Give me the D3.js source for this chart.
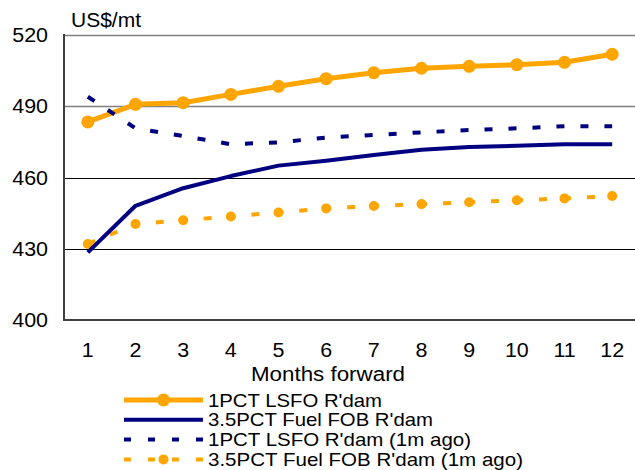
<!DOCTYPE html>
<html>
<head>
<meta charset="utf-8">
<script src="https://cdn.jsdelivr.net/npm/d3@7/dist/d3.min.js"></script>
<style>
  html, body { margin: 0; padding: 0; background: #fff; }
  svg { display: block; }
  text { font-family: "Liberation Sans", Arial, sans-serif; fill: #000; }
</style>
</head>
<body>
<svg id="chart" width="635" height="470"></svg>
<script>
// Forward curve, US$/mt, by months forward
const months = [1, 2, 3, 4, 5, 6, 7, 8, 9, 10, 11, 12];
const lsfo1pct      = [483.4, 490.8, 491.5, 495.0, 498.4, 501.6, 504.1, 506.0, 506.8, 507.5, 508.5, 511.9];
const fuel35pct     = [428.5, 448.1, 455.5, 460.6, 465.0, 467.1, 469.5, 471.7, 472.8, 473.4, 474.0, 474.0];
const lsfo1pctAgo   = [494.0, 480.7, 477.5, 474.0, 474.8, 476.8, 477.9, 479.0, 480.0, 480.7, 481.6, 481.6];
const fuel35pctAgo  = [432.0, 440.4, 442.0, 443.6, 445.3, 447.0, 448.0, 448.8, 449.6, 450.4, 451.2, 452.2];
const yTicks = [400, 430, 460, 490, 520];
const seriesNames = ["1PCT LSFO R'dam", "3.5PCT Fuel FOB R'dam", "1PCT LSFO R'dam (1m ago)", "3.5PCT Fuel FOB R'dam (1m ago)"];

const ORANGE = "#FFA500", NAVY = "#000080";
const FONT = "Liberation Sans, Arial, sans-serif";
const svg = d3.select("#chart");
const plotLeft = 64, plotRight = 636, plotTop = 35, plotBottom = 320;

const x = d3.scaleBand().domain(months).range([plotLeft, plotRight]).padding(0);
const cx = d => x(d) + x.bandwidth() / 2;
const y = d3.scaleLinear().domain([400, 520]).range([plotBottom, plotTop]);

// widen glyphs slightly, the way the chart's text is set
function stretch(sel, k) {
  sel.each(function () {
    const w = this.getComputedTextLength();
    d3.select(this).attr("textLength", w * k).attr("lengthAdjust", "spacingAndGlyphs");
  });
}

// horizontal gridlines
svg.append("g").selectAll("line").data(yTicks.filter(t => t > 400)).join("line")
  .attr("x1", plotLeft).attr("x2", 635)
  .attr("y1", d => Math.round(y(d)) + 0.5).attr("y2", d => Math.round(y(d)) + 0.5)
  .attr("stroke", d => d >= 490 ? "#808080" : "#000")
  .attr("stroke-width", d => d >= 490 ? 1.6 : 1);

// y axis labels
const yAxis = d3.axisLeft(y).tickValues(yTicks).tickSize(0).tickPadding(16);
const gy = svg.append("g").attr("transform", `translate(${plotLeft},0)`).call(yAxis);
gy.attr("font-family", FONT);
gy.select(".domain").remove();
gy.selectAll("text").attr("font-size", 19.5).attr("fill", "#000").attr("dy", "0.34em")
  .call(stretch, 1.1);

// x axis labels
const xAxis = d3.axisBottom(x).tickSize(0).tickPadding(23);
const gx = svg.append("g").attr("transform", `translate(0,${plotBottom})`).call(xAxis);
gx.attr("font-family", FONT);
gx.select(".domain").remove();
gx.selectAll("text").attr("font-size", 19.5).attr("fill", "#000")
  .call(stretch, 1.1);

// axis lines
svg.append("line").attr("x1", plotLeft).attr("x2", plotLeft).attr("y1", plotTop - 1).attr("y2", plotBottom + 1)
  .attr("stroke", "#404040").attr("stroke-width", 2);
svg.append("line").attr("x1", plotLeft).attr("x2", 635).attr("y1", plotBottom).attr("y2", plotBottom)
  .attr("stroke", "#404040").attr("stroke-width", 2);

// titles
svg.append("text").attr("x", 71).attr("y", 27).attr("font-size", 19.5)
  .attr("textLength", 70).attr("lengthAdjust", "spacingAndGlyphs").text("US$/mt");
svg.append("text").attr("x", 251).attr("y", 381).attr("font-size", 19.5)
  .attr("textLength", 154).attr("lengthAdjust", "spacingAndGlyphs").text("Months forward");

const line = d3.line().x((d, i) => cx(months[i])).y(d => y(d));

const series = [
  { values: lsfo1pct,     color: ORANGE, width: 5, dash: null,   r: 6.5 },
  { values: fuel35pctAgo, color: ORANGE, width: 4, dash: "8,16", r: 5 },
  { values: fuel35pct,    color: NAVY,   width: 4, dash: null,   r: 0 },
  { values: lsfo1pctAgo,  color: NAVY,   width: 4, dash: "8,16", r: 0 }
];

series.forEach(s => {
  svg.append("path").datum(s.values).attr("d", line)
    .attr("fill", "none").attr("stroke", s.color).attr("stroke-width", s.width)
    .attr("stroke-linejoin", "round")
    .attr("stroke-dasharray", s.dash);
  if (s.r > 0) {
    svg.append("g").selectAll("circle").data(s.values).join("circle")
      .attr("cx", (d, i) => cx(months[i])).attr("cy", d => y(d)).attr("r", s.r)
      .attr("fill", s.color);
  }
});

// legend
const legendItems = [
  { name: seriesNames[0], color: ORANGE, width: 5, dash: null,   r: 6.5, w: 174 },
  { name: seriesNames[1], color: NAVY,   width: 4, dash: null,   r: 0,   w: 225 },
  { name: seriesNames[2], color: NAVY,   width: 4, dash: "7,17", r: 0,   w: 263 },
  { name: seriesNames[3], color: ORANGE, width: 4, dash: "7,17", r: 5,   w: 315 }
];
const lg = svg.append("g").selectAll("g").data(legendItems).join("g")
  .attr("transform", (d, i) => `translate(0,${400 + i * 19.8})`);
lg.append("line").attr("x1", 124).attr("x2", 203).attr("y1", 0).attr("y2", 0)
  .attr("stroke", d => d.color).attr("stroke-width", d => d.width)
  .attr("stroke-dasharray", d => d.dash);
lg.filter(d => d.r > 0).append("circle").attr("cx", 163.5).attr("cy", 0)
  .attr("r", d => d.r).attr("fill", d => d.color);
lg.append("text").attr("x", 208).attr("y", 6.5).attr("font-size", 18.5)
  .attr("textLength", d => d.w).attr("lengthAdjust", "spacingAndGlyphs")
  .text(d => d.name);
</script>
</body>
</html>
